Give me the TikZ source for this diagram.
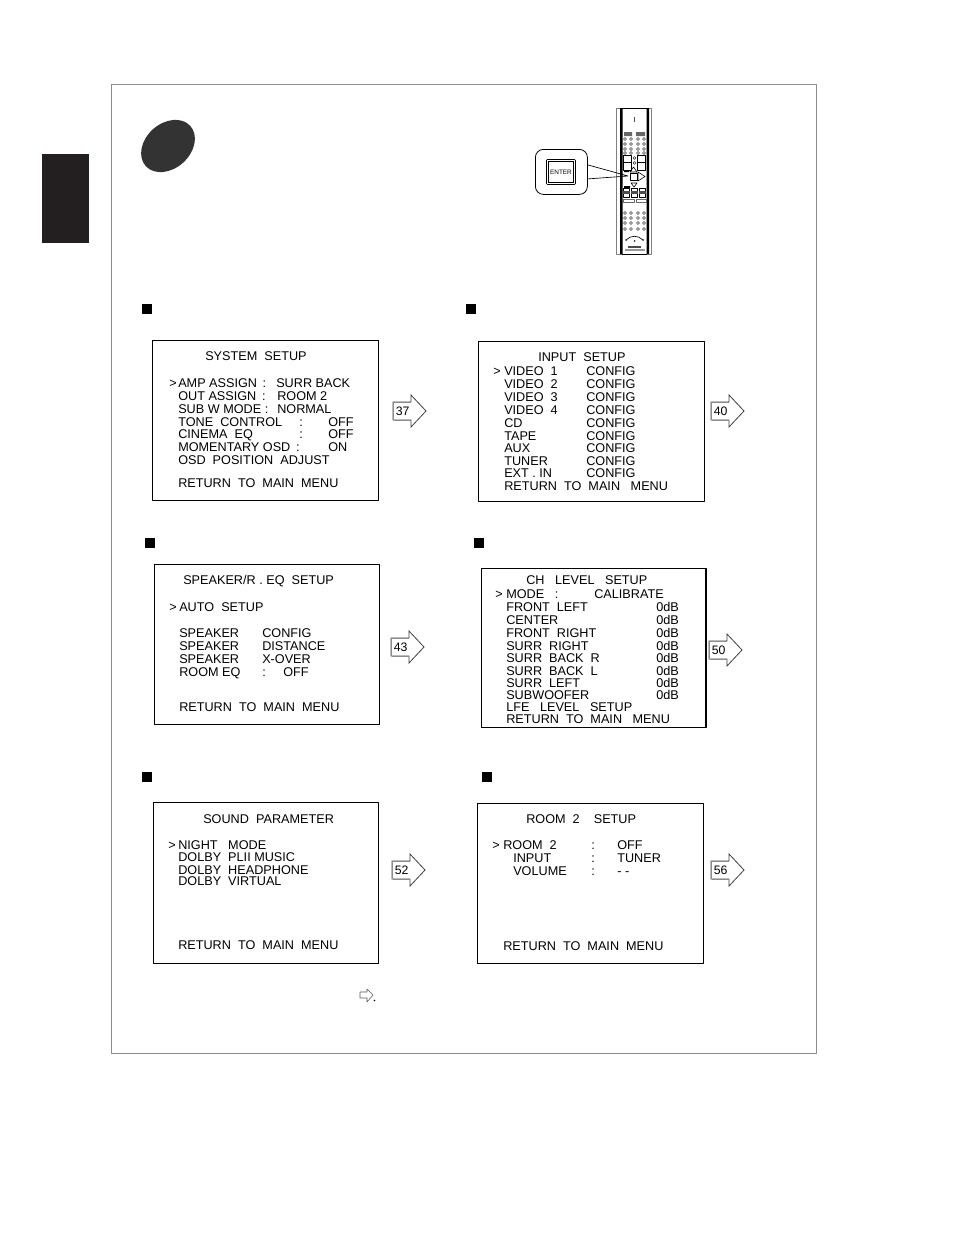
\documentclass[tikz,border=0pt]{standalone}
\usepackage{fontspec}
\setmainfont{Liberation Sans}
\definecolor{tabdark}{HTML}{231F20}
\tikzset{
	screen/.style={draw=black, line width=.7pt, fill=white},
	menuline/.style={anchor=base west, inner sep=0pt, font=\fontsize{9.5}{11}\selectfont},
	pagenum/.style={anchor=base west, inner sep=0pt, font=\fontsize{9.2}{11}\selectfont},
	bullet/.style={fill=black, draw=none, minimum size=7.5pt, inner sep=0pt, anchor=north west},
	jumparrow/.style={draw=black!75, line width=.6pt, line join=miter, fill=white},
	remotekey/.style={draw=black, line width=.45pt}
}
% one arrow with its page number: name, left x, centre y, number
\newcommand{\jump}[4]{
	\coordinate (#1a) at (#2,#3);
	\draw[jumparrow] (#1a)++(0,-9)--++(18,0)--++(0,-7)--++(15,16)--++(-15,16)--++(0,-7)--++(-18,0)--cycle;
	\draw[black!45, line width=1pt] (#2+.5,#3-8.5)--++(17,0) (#2+.5,#3+9.5)--++(17,0) (#2+.5,#3-9)--++(0,18);
	\node[pagenum] (#1n) at (#2+2.5,#3+4) {#4};
}
\begin{document}
\begin{tikzpicture}[x=.75pt, y=-.75pt, line join=round]
	\useasboundingbox (0,0) rectangle (954,1235);
	% page frame, tab and dot
	\node[draw=black!45, line width=.6pt, minimum width=528.75pt, minimum height=726.75pt, inner sep=0pt, anchor=north west] (frame) at (111,84) {};
	\fill[tabdark] (42,154) rectangle (89,243);
	\fill[black!80, rotate around={42:(168,146)}] (168,146) ellipse (30 and 22.5);
	% remote control
	\draw[black!50, line width=.6pt] (616,108) rectangle (651,254);
	\fill[black] (620,108) rectangle (622.5,254) (646.5,108) rectangle (649,254);
	\draw[black, line width=.5pt] (622,108)--(647,108) (622,254)--(647,254);
	\fill[black!70] (633.5,117) rectangle (634.8,122);
	\fill[black!60] (624,132) rectangle (632,136) (636,132) rectangle (645,136);
	\foreach \kx in {625,631,638,644}{
		\foreach \ky in {139,144,149,153}{
			\draw[black!80, line width=.4pt] (\kx,\ky) circle (1.4);
		}
		\foreach \ky in {213,218,223,229}{
			\draw[black!80, line width=.4pt] (\kx,\ky) circle (1.4);
		}
	}
	\foreach \kx in {623,637}{
		\draw[remotekey] (\kx,155) rectangle (\kx+8.5,170);
		\draw[remotekey] (\kx,162)--(\kx+8.5,162);
	}
	\draw[black!80, line width=.4pt] (634.5,158) circle (1.4) (634.5,163) circle (1.4);
	\draw[remotekey] (630,172)--(633.5,167)--(637,172)--cycle;
	\draw[remotekey] (631,183)--(634,187)--(637,183)--cycle;
	\draw[remotekey] (638,172)--(645,176.5)--(638,181)--cycle;
	\draw[remotekey] (630,173) rectangle (637,180);
	\fill[black] (624,170) rectangle (629,172) (624,186) rectangle (630,188);
	\foreach \kx in {623,631,639}{
		\draw[remotekey] (\kx,188) rectangle (\kx+6.5,197);
		\fill[black!70] (\kx,191) rectangle (\kx+6.5,194);
	}
	\draw[remotekey, black!60] (623,199) rectangle (634,202) (636,199) rectangle (646,202);
	\draw[black, line width=.5pt] (626,240) .. controls (631,235) and (638,235) .. (643,240);
	\fill[black!80] (626,240) circle (1) (634.5,241) circle (1) (643,240) circle (1);
	\fill[black!70] (628,246) rectangle (641,247.5);
	\fill[black!40] (625,249) rectangle (645,250.5);
	% enter key and its callout
	\node[draw=black, line width=.6pt, rounded corners=6pt, minimum width=39pt, minimum height=33.75pt, inner sep=0pt, anchor=north west, fill=white] (callout) at (535,149) {};
	\node[draw=black, line width=.5pt, double=white, double distance=.8pt, minimum width=20pt, minimum height=17pt, inner sep=0pt, font=\fontsize{4.8}{5}\selectfont] (enter) at (561,172) {ENTER};
	\coordinate (keyend) at (628,176);
	\draw[black, line width=.5pt] (callout.east)++(0,-7)--(keyend) (callout.east)++(0,7)--(keyend);
	% bullets
	\foreach \bx/\by [count=\bi] in {142/304,466/304,145/538,474/538,142/772,482/772}
		\node[bullet] (bullet\bi) at (\bx,\by) {};
	% the six menus
	\node[screen, minimum width=169.5pt, minimum height=120pt, inner sep=0pt, anchor=north west] (systembox) at (152,340) {};
	\node[screen, minimum width=169.5pt, minimum height=120pt, inner sep=0pt, anchor=north west] (inputbox) at (478,341) {};
	\node[screen, minimum width=168.75pt, minimum height=120pt, inner sep=0pt, anchor=north west] (speakerbox) at (154,564) {};
	\node[screen, minimum width=168pt, minimum height=119.25pt, inner sep=0pt, anchor=north west] (levelbox) at (481,568) {};
	\draw[black, line width=1.1pt] (levelbox.north east)--(levelbox.south east);
	\node[screen, minimum width=168.75pt, minimum height=120.75pt, inner sep=0pt, anchor=north west] (soundbox) at (153,802) {};
	\node[screen, minimum width=169.5pt, minimum height=120pt, inner sep=0pt, anchor=north west] (roombox) at (477,803) {};
	% system setup
	\foreach \tx/\ty/\tt [count=\ti] in {205/360/SYSTEM\ \ SETUP, 169/387/>, 178/387/AMP\ ASSIGN\ \,:, 276/387/SURR BACK,
		178/400/OUT\ ASSIGN\ \,:, 277/400/ROOM 2, 178/413/SUB W MODE :, 277/413/NORMAL,
		178/426/TONE\ \ CONTROL, 299/426/:, 328/426/OFF, 178/438/CINEMA\ \ EQ, 299/438/:, 328/438/OFF,
		178/451/MOMENTARY\ OSD\ \,:, 328/451/ON, 178/464/OSD\ \ POSITION\ \ ADJUST, 178/487/RETURN\ \ TO\ \ MAIN\ \ MENU}
		\node[menuline] (sys\ti) at (\tx,\ty) {\tt};
	% input setup
	\foreach \tx/\ty/\tt [count=\ti] in {538/361/INPUT\ \ SETUP, 493/375/>, 504/375/VIDEO\ \ 1, 504/388/VIDEO\ \ 2,
		504/401/VIDEO\ \ 3, 504/414/VIDEO\ \ 4, 504/427/CD, 504/440/TAPE, 504/452/AUX, 504/465/TUNER, 504/477/EXT\ .\ IN,
		586/375/CONFIG, 586/388/CONFIG, 586/401/CONFIG, 586/414/CONFIG, 586/427/CONFIG, 586/440/CONFIG, 586/452/CONFIG,
		586/465/CONFIG, 586/477/CONFIG, 504/490/RETURN\ \ TO\ \ MAIN\ \ \ MENU}
		\node[menuline] (inp\ti) at (\tx,\ty) {\tt};
	% speaker setup
	\foreach \tx/\ty/\tt [count=\ti] in {183/584/{SPEAKER/R\ .\ EQ\ \ SETUP}, 169/611/>, 179/611/AUTO\ \ SETUP,
		179/637/SPEAKER, 262/637/CONFIG, 179/650/SPEAKER, 262/650/DISTANCE, 179/663/SPEAKER, 262/663/X-OVER,
		179/676/ROOM EQ, 262/676/:, 283/676/OFF, 179/711/RETURN\ \ TO\ \ MAIN\ \ MENU}
		\node[menuline] (spk\ti) at (\tx,\ty) {\tt};
	% channel level
	\foreach \tx/\ty/\tt [count=\ti] in {526/584/CH\ \ \ LEVEL\ \ \ SETUP, 495/598/>, 506/598/MODE\ \ \ :, 594/598/CALIBRATE,
		506/611/FRONT\ \ LEFT, 506/624/CENTER, 506/637/FRONT\ \ RIGHT, 506/650/SURR\ \ RIGHT, 506/662/SURR\ \ BACK\ \ R,
		506/675/SURR\ \ BACK\ \ L, 506/687/SURR\ \ LEFT, 506/699/SUBWOOFER, 656/611/0dB, 656/624/0dB, 656/637/0dB,
		656/650/0dB, 656/662/0dB, 656/675/0dB, 656/687/0dB, 656/699/0dB, 506/711/LFE\ \ \ LEVEL\ \ \ SETUP,
		506/723/RETURN\ \ TO\ \ MAIN\ \ \ MENU}
		\node[menuline] (lev\ti) at (\tx,\ty) {\tt};
	% sound parameter
	\foreach \tx/\ty/\tt [count=\ti] in {203/823/SOUND\ \ PARAMETER, 168/849/>, 178/849/NIGHT\ \ \ MODE,
		178/861/DOLBY\ \ PLII\ MUSIC, 178/874/DOLBY\ \ HEADPHONE, 178/885/DOLBY\ \ VIRTUAL, 178/949/RETURN\ \ TO\ \ MAIN\ \ MENU}
		\node[menuline] (snd\ti) at (\tx,\ty) {\tt};
	% room 2
	\foreach \tx/\ty/\tt [count=\ti] in {526/823/ROOM\ \ 2\ \ \ \ SETUP, 492/849/>, 503/849/ROOM\ \ 2, 591/849/:, 617/849/OFF,
		513/862/INPUT, 591/862/:, 617/862/TUNER, 513/875/VOLUME, 591/875/:, 617/875/-\ -, 503/950/RETURN\ \ TO\ \ MAIN\ \ MENU}
		\node[menuline] (rom\ti) at (\tx,\ty) {\tt};
	% page arrows
	\jump{sysjump}{393}{411}{37}
	\jump{inpjump}{711}{411}{40}
	\jump{spkjump}{391}{647}{43}
	\jump{levjump}{709}{650}{50}
	\jump{sndjump}{392}{870}{52}
	\jump{romjump}{711}{870}{56}
	% small arrow of the footnote
	\draw[black!65, line width=.4pt] (360,992)--(367,992)--(367,989)--(373,995)--(367,1002)--(367,998)--(360,998)--cycle;
	\fill[black] (374.5,1000.5) circle (.9);
\end{tikzpicture}
\end{document}
